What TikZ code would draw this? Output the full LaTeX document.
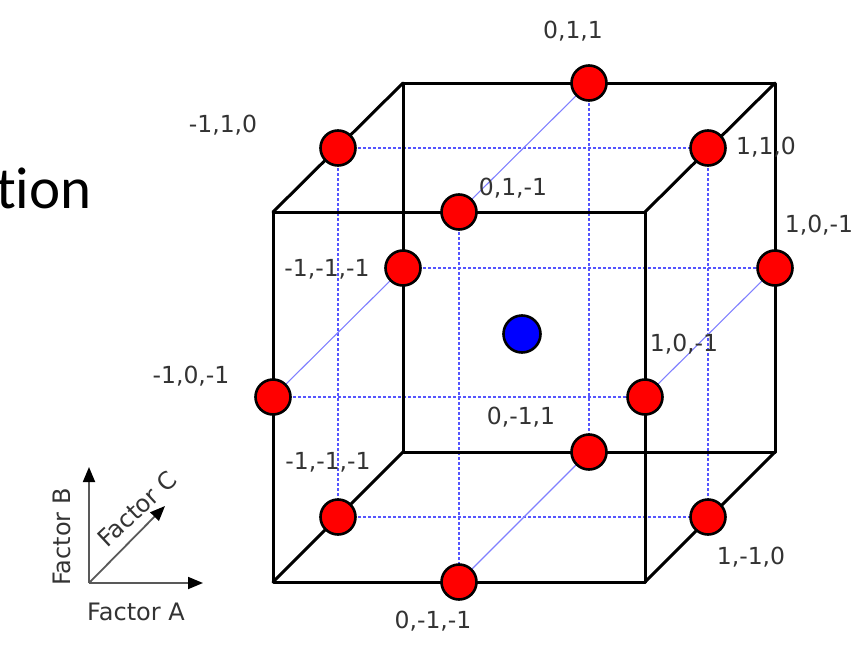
\documentclass[tikz,border=0pt]{standalone}
\usepackage{fontspec}
\setmainfont{DejaVu Sans}
\newfontfamily\titlefont[Ligatures={NoCommon}]{Carlito}
\usetikzlibrary{arrows.meta}
\definecolor{labgray}{HTML}{333333}
\definecolor{dotblue}{HTML}{5555FF}
\definecolor{thinblue}{HTML}{8080FF}
\begin{document}
\begin{tikzpicture}[x=1pt,y=-1pt,
  edge/.style={line width=3pt,line join=round,line cap=round},
  dotline/.style={dotblue,line width=1.3pt,dash pattern=on 3pt off 2pt},
  thinline/.style={thinblue,line width=1.1pt},
  rpt/.style={circle,draw=black,line width=2.6pt,fill=red,minimum size=35pt,inner sep=0pt},
  bpt/.style={circle,draw=black,line width=2.6pt,fill=blue,minimum size=37pt,inner sep=0pt},
  lab/.style={text=labgray,font=\fontsize{23.5}{26}\selectfont,inner sep=0pt},
  axis/.style={draw=gray!70!black,line width=1.8pt,-{Triangle[length=15pt,width=12pt,color=black,fill=black]}},
  axlab/.style={text=labgray,font=\fontsize{24}{26}\selectfont,inner sep=0pt}]
\useasboundingbox (0,0) rectangle (868,664);

% title fragment
\node[anchor=base west,inner sep=0pt,font=\titlefont\fontsize{59}{66}\selectfont] (title) at (-4,208) {tion};

% cube corners
\coordinate (Ftl) at (273,212);
\coordinate (Ftr) at (645,212);
\coordinate (Fbr) at (645,582);
\coordinate (Fbl) at (273,582);
\coordinate (Btl) at (403,83);
\coordinate (Btr) at (775,83);
\coordinate (Bbr) at (775,452);
\coordinate (Bbl) at (403,452);

% design points (positions)
\coordinate (c011) at (589,83);
\coordinate (cm110) at (338,148);
\coordinate (c110) at (708,148);
\coordinate (c01m1) at (459,212);
\coordinate (c10m1t) at (775,268);
\coordinate (cm1m1m1t) at (403,268);
\coordinate (c10m1) at (645,397);
\coordinate (cm10m1) at (273,397);
\coordinate (c0m11) at (589,452);
\coordinate (cm1m1m1b) at (338,517);
\coordinate (c1m10) at (708,517);
\coordinate (c0m1m1) at (459,582);

% dotted grid lines
\draw[dotline] (cm110) -- (c110);
\draw[dotline] (cm1m1m1t) -- (c10m1t);
\draw[dotline] (cm10m1) -- (c10m1);
\draw[dotline] (cm1m1m1b) -- (c1m10);
\draw[dotline] (cm110) -- (cm1m1m1b);
\draw[dotline] (c110) -- (c1m10);
\draw[dotline] (c01m1) -- (c0m1m1);
\draw[dotline] (c011) -- (c0m11);
% thin diagonals
\draw[thinline] (cm10m1) -- (cm1m1m1t);
\draw[thinline] (c10m1) -- (c10m1t);
\draw[thinline] (c01m1) -- (c011);
\draw[thinline] (c0m1m1) -- (c0m11);

% cube edges
\draw[edge] (Ftl) -- (Ftr) -- (Fbr) -- (Fbl) -- cycle;
\draw[edge] (Btl) -- (Btr) -- (Bbr) -- (Bbl) -- cycle;
\draw[edge] (Ftl) -- (Btl);
\draw[edge] (Ftr) -- (Btr);
\draw[edge] (Fbr) -- (Bbr);
\draw[edge] (Fbl) -- (Bbl);

% points
\node[rpt] (p011) at (c011) {};
\node[rpt] (pm110) at (cm110) {};
\node[rpt] (p110) at (c110) {};
\node[rpt] (p01m1) at (c01m1) {};
\node[rpt] (p10m1t) at (c10m1t) {};
\node[rpt] (pm1m1m1t) at (cm1m1m1t) {};
\node[rpt] (p10m1) at (c10m1) {};
\node[rpt] (pm10m1) at (cm10m1) {};
\node[rpt] (p0m11) at (c0m11) {};
\node[rpt] (pm1m1m1b) at (cm1m1m1b) {};
\node[rpt] (p1m10) at (c1m10) {};
\node[rpt] (p0m1m1) at (c0m1m1) {};
\node[bpt] (center) at (522,334) {};

% labels
\node[lab] (l011) at (573,31) {0,1,1};
\node[lab] (lm110) at (223,125) {-1,1,0};
\node[lab] (l110) at (766,147) {1,1,0};
\node[lab] (l01m1) at (513,188) {0,1,-1};
\node[lab] (l10m1t) at (819,225) {1,0,-1};
\node[lab] (lm1m1m1t) at (327,269) {-1,-1,-1};
\node[lab] (l10m1) at (684,344) {1,0,-1};
\node[lab] (lm10m1) at (191,376) {-1,0,-1};
\node[lab] (l0m11) at (521,417) {0,-1,1};
\node[lab] (lm1m1m1b) at (328,462) {-1,-1,-1};
\node[lab] (l1m10) at (751,557) {1,-1,0};
\node[lab] (l0m1m1) at (433,621) {0,-1,-1};

% factor axes
\coordinate (o) at (89,583);
\coordinate (ta) at (203,583);
\coordinate (tb) at (89,467);
\coordinate (tc) at (165,506);
\draw[axis] (o) -- (ta);
\draw[axis] (o) -- (tb);
\draw[axis] (o) -- (tc);
\node[axlab] (fa) at (136,612) {Factor A};
\node[axlab,rotate=90] (fb) at (62,537) {Factor B};
\node[axlab,rotate=43] (fc) at (137,509) {Factor C};
\end{tikzpicture}
\end{document}
